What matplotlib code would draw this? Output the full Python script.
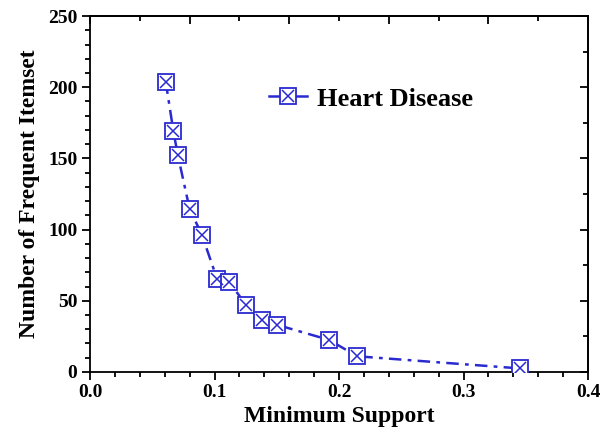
import matplotlib
matplotlib.use("Agg")
import matplotlib.pyplot as plt
from matplotlib.ticker import MultipleLocator, FormatStrFormatter
from matplotlib.lines import Line2D

min_support = [0.0608, 0.067, 0.0705, 0.080, 0.0898, 0.1022, 0.112, 0.1254, 0.1378, 0.1506, 0.192, 0.2146, 0.345]
freq_itemsets = [204, 169, 152.5, 114.5, 96.5, 65, 63, 47, 36.5, 33, 22.5, 11, 2.5]

plt.rcParams['font.family'] = ['Liberation Serif', 'DejaVu Serif']
color = '#2a2ad0'

fig = plt.figure(figsize=(6, 4.34), dpi=100)
ax = fig.add_axes([0.15, 0.143, 0.83, 0.82])

ax.plot(min_support, freq_itemsets, color=color, lw=1.8, ls=(0, (5, 2.5, 1.5, 2.5)), zorder=2)
ax.plot(min_support, freq_itemsets, ls='none', marker='s', ms=12, mfc='white', mec=color, mew=1.3, zorder=3)
ax.plot(min_support, freq_itemsets, ls='none', marker='x', ms=8.5, mec=color, mew=1.1, zorder=4)

ax.set_xlim(0, 0.4)
ax.set_ylim(0, 250)
ax.xaxis.set_major_locator(MultipleLocator(0.1))
ax.xaxis.set_minor_locator(MultipleLocator(0.02))
ax.yaxis.set_major_locator(MultipleLocator(50))
ax.yaxis.set_minor_locator(MultipleLocator(10))
ax.xaxis.set_major_formatter(FormatStrFormatter('%.1f'))

ax.tick_params(which='both', direction='out', top=False, right=False, width=1.3, labelsize=14, pad=3)
ax.tick_params(which='major', length=6)
ax.tick_params(which='minor', length=3.5)
for lab in ax.get_xticklabels() + ax.get_yticklabels():
    lab.set_fontweight('bold')
for s in ax.spines.values():
    s.set_linewidth(1.3)

axt = ax.secondary_xaxis('top')
axt.xaxis.set_major_locator(MultipleLocator(0.08))
axt.xaxis.set_minor_locator(MultipleLocator(0.04))
axt.tick_params(which='both', direction='in', labeltop=False, width=1.3)
axt.tick_params(which='major', length=6)
axt.tick_params(which='minor', length=3.5)
axt.spines['top'].set_linewidth(1.3)
axr = ax.secondary_yaxis('right')
axr.yaxis.set_major_locator(MultipleLocator(50))
axr.yaxis.set_minor_locator(MultipleLocator(25))
axr.tick_params(which='both', direction='in', labelright=False, width=1.3)
axr.tick_params(which='major', length=6)
axr.tick_params(which='minor', length=3.5)
axr.spines['right'].set_linewidth(1.3)

ax.set_xlabel('Minimum Support', fontsize=17, fontweight='bold', labelpad=3)
ax.set_ylabel('Number of Frequent Itemset', fontsize=17, fontweight='bold', labelpad=6)

h_line = Line2D([], [], color=color, lw=1.8, ls='-')
h_sq = Line2D([], [], ls='none', marker='s', ms=12, mfc='white', mec=color, mew=1.3)
h_x = Line2D([], [], ls='none', marker='x', ms=8.5, mec=color, mew=1.1)
ax.legend([(h_line, h_sq, h_x)], ['Heart Disease'], loc='center left', bbox_to_anchor=(0.311, 0.767),
          frameon=False, prop={'size': 19, 'weight': 'bold'}, handlelength=1.45, handletextpad=0.38)

fig.savefig('out.png', dpi=100)
